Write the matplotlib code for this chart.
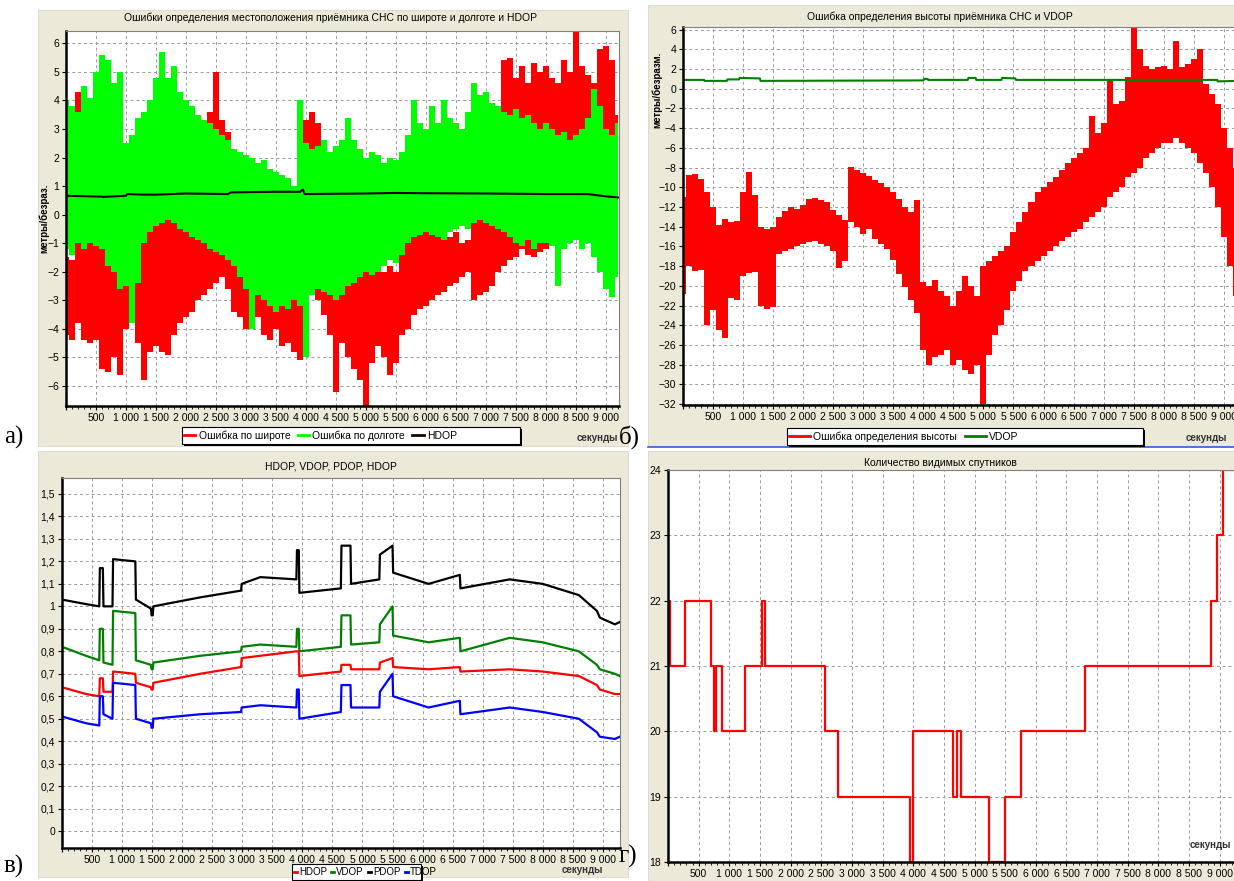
import numpy as np
import matplotlib.pyplot as plt
from matplotlib.patches import Rectangle
from matplotlib.lines import Line2D
from matplotlib.ticker import FuncFormatter, MultipleLocator

# ---------------- data ----------------
# panels a) and b): noisy errors, min/max envelope every 100 s
t_env = np.arange(0, 9201, 100)

lat_hi = [-1.5, -1.6, 4.3, -1.2, -0.5, -0.6, 0.8, -1.8, -1.9, -2.0,
          -2.0, -1.8, -1.2, -0.5, -0.2, 0.0, 0.5, 0.6, 0.8, 0.7,
          0.6, 0.3, 0.0, -0.5, 3.6, 5.0, 3.3, 2.9, -1.0, -1.2,
          -1.4, -1.5, -1.6, -1.5, -1.8, -2.0, -1.9, -2.0, -2.1, -2.0,
          3.3, 3.6, 3.2, -1.8, -2.0, -2.0, -1.5, -1.8, -2.0, -2.0,
          -1.5, -1.6, -1.5, -2.0, -1.8, -2.0, -1.2, -0.8, 0.2, -0.4,
          -0.3, -0.5, -0.6, -0.5, -0.8, -0.6, -1.0, -0.9, 1.0, 1.3,
          4.2, 1.0, 0.6, 5.4, 5.5, 4.8, 5.2, 4.6, 5.3, 5.0,
          5.2, 4.8, 4.6, 5.4, 5.0, 6.4, 5.2, 4.9, 4.6, 5.8,
          5.9, 5.4, 3.5]
lat_lo = [-4.2, -4.4, -3.8, -4.4, -4.5, -4.4, -5.4, -5.5, -5.0, -5.6,
          -4.0, -3.8, -4.5, -5.8, -4.8, -4.6, -4.8, -4.9, -4.2, -3.8,
          -3.6, -3.4, -3.0, -2.8, -2.6, -2.4, -2.2, -2.6, -3.4, -3.6,
          -4.0, -3.8, -3.6, -4.2, -4.4, -4.0, -4.6, -4.5, -4.8, -5.1,
          0.5, 0.8, -3.0, -3.5, -4.2, -6.2, -4.5, -5.0, -5.4, -5.8,
          -6.7, -5.2, -4.6, -5.0, -5.6, -5.2, -4.2, -4.0, -3.5, -3.3,
          -3.2, -3.0, -2.8, -2.7, -2.5, -2.4, -2.2, -2.0, -3.0, -2.8,
          -2.7, -2.5, -2.0, -1.8, -1.6, -1.5, -1.2, -1.4, -1.5, -1.3,
          -1.2, -1.0, -0.8, -0.9, -0.7, -0.8, -0.6, -0.5, -0.3, 0.2,
          0.5, 1.0, 0.4]
lon_hi = [4.0, 3.8, 3.6, 4.5, 4.1, 5.0, 5.6, 5.4, 4.6, 5.0,
          2.5, 2.8, 3.4, 3.6, 4.0, 4.8, 5.7, 4.8, 5.2, 4.3,
          4.0, 3.8, 3.5, 3.3, 3.2, 3.0, 2.8, 2.6, 2.3, 2.2,
          2.1, 2.0, 1.8, 1.9, 1.6, 1.5, 1.4, 1.3, 1.0, 4.0,
          2.5, 2.3, 2.4, 2.6, 2.2, 2.4, 2.6, 3.4, 2.6, 2.3,
          2.0, 2.2, 2.1, 1.8, 2.0, 1.9, 2.2, 2.8, 4.0, 3.2,
          3.0, 3.8, 3.2, 4.0, 3.4, 3.2, 3.0, 3.6, 4.6, 4.2,
          4.3, 3.9, 3.8, 3.6, 3.5, 3.7, 3.4, 3.5, 3.2, 3.0,
          3.2, 3.0, 2.8, 2.9, 2.6, 2.8, 3.0, 3.4, 4.4, 3.8,
          3.0, 2.8, 3.2]
lon_lo = [-1.2, -1.4, -1.0, -1.2, -1.0, -1.1, -1.2, -1.8, -2.0, -2.6,
          -2.5, -3.8, -2.4, -1.0, -0.6, -0.4, -0.3, -0.2, -0.3, -0.5,
          -0.6, -0.8, -0.9, -1.0, -1.2, -1.3, -1.4, -1.6, -1.8, -2.2,
          -2.6, -4.0, -2.8, -3.0, -3.2, -3.4, -3.2, -3.3, -3.0, -3.2,
          -5.0, -2.8, -2.6, -2.7, -2.8, -3.0, -2.8, -2.5, -2.4, -2.2,
          -2.0, -2.1, -2.0, -1.8, -1.6, -1.7, -1.4, -1.0, -0.8, -0.7,
          -0.6, -0.7, -0.8, -0.9, -0.6, -0.5, -0.4, -0.5, -0.3, -0.2,
          -0.3, -0.4, -0.5, -0.6, -0.8, -1.0, -1.1, -0.9, -1.2, -1.0,
          -1.0, -1.1, -2.5, -1.2, -1.0, -0.9, -1.2, -1.0, -1.5, -2.0,
          -2.6, -2.9, -2.2]
hdop_a_t = [0, 600, 620, 1000, 1020, 1300, 1500, 2000, 2700, 2750, 3500,
            3900, 3950, 3980, 5000, 5500, 6000, 7000, 8000, 8700, 9000, 9220]
hdop_a = [0.66, 0.63, 0.62, 0.66, 0.72, 0.70, 0.70, 0.74, 0.72, 0.78, 0.80,
          0.80, 0.88, 0.72, 0.74, 0.76, 0.75, 0.74, 0.72, 0.72, 0.64, 0.60]

alt_hi = [-11.0, -8.8, -8.7, -9.2, -10.5, -12.0, -13.8, -13.2, -13.5, -13.4,
          -10.5, -8.4, -10.8, -14.0, -14.2, -14.0, -13.0, -12.4, -12.0, -12.2,
          -11.8, -11.2, -11.1, -11.3, -11.5, -12.3, -12.8, -13.3, -7.9, -8.2,
          -8.6, -8.9, -9.3, -9.6, -10.0, -10.5, -11.2, -12.0, -12.5, -11.3,
          -19.6, -20.0, -19.4, -20.5, -21.0, -22.0, -20.5, -19.0, -20.0, -21.0,
          -18.0, -17.5, -17.0, -16.5, -16.0, -14.5, -13.5, -12.5, -11.5, -10.5,
          -10.0, -9.5, -9.0, -8.2, -7.5, -7.0, -6.5, -6.0, -2.8, -4.5,
          -3.5, 1.0, -1.5, -1.2, 1.2, 6.2, 4.0, 2.3, 2.0, 2.2,
          2.3, 2.0, 4.8, 2.2, 2.5, 3.0, 4.0, 0.5, -0.5, -1.5,
          -4.0, -6.0, -8.0]
alt_lo = [-20.8, -18.0, -18.5, -18.4, -24.0, -22.5, -24.5, -25.3, -21.2, -21.4,
          -19.0, -18.7, -18.6, -22.0, -22.4, -22.2, -16.8, -16.5, -16.3, -16.0,
          -15.8, -15.6, -15.5, -15.8, -16.0, -16.5, -18.2, -17.5, -13.5, -14.0,
          -14.7, -14.2, -15.3, -15.8, -16.3, -17.4, -18.8, -20.1, -21.4, -22.8,
          -26.5, -28.0, -27.2, -27.0, -26.5, -28.0, -27.5, -28.5, -29.0, -28.0,
          -32.0, -27.0, -25.0, -24.0, -22.5, -20.5, -19.5, -18.5, -18.0, -17.5,
          -17.0, -16.5, -16.0, -15.5, -15.0, -14.5, -14.2, -13.5, -13.0, -12.5,
          -12.0, -11.0, -10.5, -10.0, -9.0, -8.5, -8.0, -7.0, -6.5, -6.0,
          -5.5, -5.5, -5.0, -5.5, -6.0, -6.5, -7.5, -8.5, -10.0, -12.0,
          -15.0, -18.0, -21.0]
vdop_b_t = [0, 350, 360, 730, 740, 930, 940, 1280, 1290, 4000, 4010, 4070,
            4080, 4740, 4750, 4870, 4880, 5300, 5310, 5530, 5540, 8890, 8900, 9220]
vdop_b = [0.9, 0.9, 0.8, 0.8, 0.95, 0.95, 1.1, 1.05, 0.8, 0.85, 1.0, 1.0,
          0.9, 0.9, 1.1, 1.1, 0.9, 0.9, 1.1, 1.05, 0.9, 0.9, 0.75, 0.8]

# panel c): DOP values
dop_t = [0, 400, 620, 630, 680, 690, 840, 850, 1220, 1230, 1480, 1490, 1510, 1520,
         2300, 2980, 2990, 3300, 3900, 3910, 3940, 3950, 4640, 4650, 4800, 4810,
         5280, 5290, 5500, 5510, 6100, 6620, 6630, 7450, 8000, 8600, 8900, 8950, 9200, 9280]
pdop = [1.03, 1.01, 1.0, 1.17, 1.17, 1.0, 1.0, 1.21, 1.20, 1.03, 0.99, 0.96, 0.96, 1.0,
        1.04, 1.07, 1.10, 1.13, 1.12, 1.25, 1.25, 1.06, 1.08, 1.27, 1.27, 1.10,
        1.12, 1.23, 1.27, 1.15, 1.10, 1.14, 1.08, 1.12, 1.10, 1.05, 0.98, 0.95, 0.92, 0.93]
vdop = [0.82, 0.78, 0.76, 0.90, 0.90, 0.75, 0.74, 0.98, 0.97, 0.76, 0.74, 0.72, 0.72, 0.75,
        0.78, 0.80, 0.82, 0.83, 0.82, 0.90, 0.90, 0.80, 0.82, 0.96, 0.96, 0.83,
        0.84, 0.92, 1.0, 0.87, 0.84, 0.86, 0.80, 0.86, 0.84, 0.80, 0.74, 0.72, 0.70, 0.69]
hdop = [0.64, 0.61, 0.60, 0.68, 0.68, 0.62, 0.62, 0.71, 0.70, 0.66, 0.64, 0.63, 0.63, 0.66,
        0.70, 0.73, 0.77, 0.78, 0.80, 0.80, 0.80, 0.69, 0.71, 0.74, 0.74, 0.72,
        0.72, 0.75, 0.77, 0.73, 0.72, 0.73, 0.71, 0.72, 0.71, 0.69, 0.65, 0.63, 0.61, 0.61]
tdop = [0.51, 0.48, 0.47, 0.60, 0.60, 0.52, 0.50, 0.66, 0.65, 0.50, 0.48, 0.46, 0.46, 0.50,
        0.52, 0.53, 0.55, 0.56, 0.55, 0.63, 0.63, 0.50, 0.53, 0.65, 0.65, 0.55,
        0.55, 0.62, 0.70, 0.60, 0.55, 0.58, 0.52, 0.55, 0.53, 0.50, 0.44, 0.42, 0.41, 0.42]

# panel d): number of visible satellites
sat_t = [0, 40, 280, 700, 750, 790, 880, 1260, 1530, 1580, 2560, 2780, 3950,
         4000, 4650, 4720, 4780, 5230, 5500, 5750, 6800, 8850, 8950, 9050, 9330]
sat_n = [22, 21, 22, 21, 20, 21, 20, 21, 22, 21, 20, 19, 18,
         20, 19, 20, 19, 18, 19, 20, 21, 22, 23, 24, 24]

# ---------------- figure ----------------
W, H = 1234, 881
plt.rcParams['font.family'] = ['Liberation Sans', 'DejaVu Sans']
fig = plt.figure(figsize=(W / 100, H / 100), dpi=100)

BEIGE = '#ECE9D8'
GRID = '#9a9a9a'
FS = 7.5


def rect(l, t, r, b, z, **kw):
    p = Rectangle((l / W, 1 - b / H), (r - l) / W, (b - t) / H,
                  transform=fig.transFigure, zorder=z, **kw)
    fig.add_artist(p)


def ftext(x, y, s, **kw):
    fig.text(x / W, 1 - y / H, s, zorder=5, **kw)


def thousands(v, pos):
    if v <= 0:
        return ''
    return f'{int(round(v)):,}'.replace(',', ' ')


def make_ax(l, t, r, b, xmax):
    ax = fig.add_axes([l / W, 1 - b / H, (r - l) / W, (b - t) / H])
    ax.set_zorder(1)
    ax.set_facecolor('white')
    ax.set_xlim(0, xmax)
    ax.grid(True, color=GRID, ls=(0, (3, 3)), lw=0.7)
    ax.set_axisbelow(True)
    for s in ('top', 'right'):
        ax.spines[s].set_color('#808080')
        ax.spines[s].set_linewidth(0.8)
    for s in ('left', 'bottom'):
        ax.spines[s].set_color('black')
        ax.spines[s].set_linewidth(1.8)
    ax.xaxis.set_major_locator(MultipleLocator(500))
    ax.xaxis.set_minor_locator(MultipleLocator(100))
    ax.xaxis.set_major_formatter(FuncFormatter(thousands))
    ax.tick_params(labelsize=FS, length=3, width=0.8, pad=2, colors='black')
    ax.tick_params(which='minor', length=2, width=0.6)
    return ax


def band(ax, lo, hi, color):
    # solid min/max bar for every 100 s bin
    ax.fill_between(t_env, lo, hi, step='mid', color=color, lw=0)


def legend_box(l, t, r, b, handles, labels, fs=FS, **kw):
    rect(l + 2, t + 2, r + 2, b + 2, 3, facecolor='black', edgecolor='none')
    rect(l, t, r, b, 3.5, facecolor='white', edgecolor='black', lw=0.8)
    lg = fig.legend(handles, labels, loc='center left',
                    bbox_to_anchor=((l + 2) / W, 1 - (t + b) / 2 / H),
                    frameon=False, ncol=len(handles), fontsize=fs,
                    borderpad=0, borderaxespad=0, **kw)
    lg.set_zorder(4)


# panel frames
rect(38, 10, 628, 446, -1, facecolor=BEIGE, edgecolor='#d4d0c8', lw=0.5)
rect(648, 5, 1240, 446, -1, facecolor=BEIGE, edgecolor='#d4d0c8', lw=0.5)
rect(38, 451, 628, 877, -1, facecolor=BEIGE, edgecolor='#d4d0c8', lw=0.5)
rect(648, 451, 1240, 881, -1, facecolor=BEIGE, edgecolor='#d4d0c8', lw=0.5)
fig.add_artist(Line2D([648 / W, 1], [1 - 446.5 / H] * 2, transform=fig.transFigure,
                      color='#2f5fe0', lw=1.2, zorder=2))

# ---- a) latitude / longitude errors ----
ax = make_ax(66, 31, 619, 406, 9220)
ax.set_ylim(-6.7, 6.43)
ax.yaxis.set_major_locator(MultipleLocator(1))
band(ax, lat_lo, lat_hi, '#ff0000')
band(ax, lon_lo, lon_hi, '#00ff00')
ax.plot(hdop_a_t, hdop_a, color='#1a0505', lw=1.5)
ftext(331, 18, 'Ошибки определения местоположения приёмника СНС по широте и долготе и HDOP',
      fontsize=FS, ha='center', va='center')
ftext(44, 218, 'метры/безраз.', fontsize=7, fontweight='bold', rotation=90,
      ha='center', va='center')
legend_box(182, 427, 520, 444,
           [Line2D([], [], color='#ff0000', lw=2), Line2D([], [], color='#00ff00', lw=2),
            Line2D([], [], color='#1a0505', lw=2)],
           ['Ошибка по широте', 'Ошибка по долготе', 'HDOP'],
           handlelength=1.1, handletextpad=0.3, columnspacing=0.7)
ftext(597, 438, 'секунды', fontsize=7, fontweight='bold', ha='center', va='center',
      color='#333333')
ftext(4, 437, 'а)', fontsize=18, family='Liberation Serif', va='center')

# ---- b) altitude error ----
ax = make_ax(683, 27, 1237, 405, 9220)
ax.set_ylim(-32.1, 6.27)
ax.yaxis.set_major_locator(MultipleLocator(2))
band(ax, alt_lo, alt_hi, '#ff0000')
ax.plot(vdop_b_t, vdop_b, color='#008000', lw=1.5)
ftext(940, 17, 'Ошибка определения высоты приёмника СНС и VDOP',
      fontsize=FS, ha='center', va='center')
ftext(657, 90, 'метры/безразм.', fontsize=7, fontweight='bold', rotation=90,
      ha='center', va='center')
legend_box(787, 428, 1143, 445,
           [Line2D([], [], color='#ff0000', lw=2), Line2D([], [], color='#008000', lw=2)],
           ['Ошибка определения высоты', 'VDOP'],
           handlelength=2.0, handletextpad=0.3, columnspacing=0.8)
ftext(1206, 438, 'секунды', fontsize=7, fontweight='bold', ha='center', va='center',
      color='#333333')
ftext(619, 437, 'б)', fontsize=18, family='Liberation Serif', va='center')

# ---- c) DOP ----
ax = make_ax(62, 478, 620, 848, 9285)
ax.set_ylim(-0.075, 1.571)
ax.yaxis.set_major_locator(MultipleLocator(0.1))
ax.yaxis.set_major_formatter(FuncFormatter(
    lambda v, p: '0' if abs(v) < 1e-9 else f'{v:.1f}'.rstrip('0').rstrip('.').replace('.', ',')))
ax.plot(dop_t, pdop, color='black', lw=1.6)
ax.plot(dop_t, vdop, color='#008000', lw=1.6)
ax.plot(dop_t, hdop, color='#ff0000', lw=1.6)
ax.plot(dop_t, tdop, color='#0000ff', lw=1.6)
ftext(331, 466, 'HDOP, VDOP, PDOP, HDOP', fontsize=FS, ha='center', va='center')
legend_box(292, 864, 421, 880,
           [Line2D([], [], color=c, lw=2) for c in ('#ff0000', '#008000', 'black', '#0000ff')],
           ['HDOP', 'VDOP', 'PDOP', 'TDOP'], fs=7,
           handlelength=0.3, handletextpad=0.2, columnspacing=0.45)
ftext(582, 870, 'секунды', fontsize=7, fontweight='bold', ha='center', va='center',
      color='#333333')
ftext(4, 866, 'в)', fontsize=18, family='Liberation Serif', va='center')

# ---- d) satellites ----
ax = make_ax(668, 470, 1240, 862, 9330)
ax.set_ylim(18, 24)
ax.yaxis.set_major_locator(MultipleLocator(1))
ax.plot(sat_t, sat_n, color='#ff0000', lw=1.6, drawstyle='steps-post')
ax.text(0.985, 0.03, 'секунды', transform=ax.transAxes, fontsize=7, fontweight='bold',
        ha='right', va='bottom', color='#333333')
ftext(940, 463, 'Количество видимых спутников', fontsize=FS, ha='center', va='center')
ftext(619, 856, 'г)', fontsize=18, family='Liberation Serif', va='center')

fig.savefig('out.png', dpi=100, facecolor='white')
